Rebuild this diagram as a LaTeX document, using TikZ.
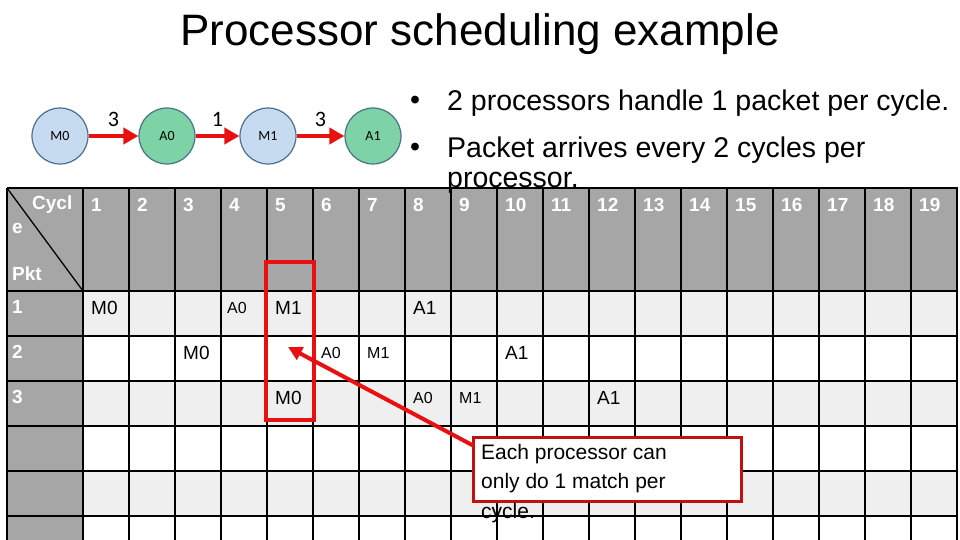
\documentclass[tikz,border=0pt]{standalone}
\usepackage{fontspec}
\setmainfont{Liberation Sans}
\newfontfamily\carlitofont{Carlito}
\usetikzlibrary{arrows.meta}
\definecolor{hdr}{HTML}{A6A6A6}
\definecolor{lite}{HTML}{EFEFEF}
\definecolor{cblue}{HTML}{C6DBF0}
\definecolor{cgreen}{HTML}{7DD3A5}
\definecolor{cedge}{HTML}{4A6F8F}
\definecolor{myred}{HTML}{E81010}
\tikzset{
 proc/.style={circle,draw=cedge,line width=1.2pt,minimum size=56pt,inner sep=0pt,font=\carlitofont\fontsize{14}{14}\selectfont},
 flow/.style={myred,line width=4.5pt,-{Triangle[length=15pt,width=16pt]}},
 wlab/.style={anchor=north west,text=white,font=\bfseries\fontsize{19}{19}\selectfont,inner sep=0pt},
 cellA/.style={anchor=west,font=\fontsize{19}{19}\selectfont,inner sep=0pt},
 cellB/.style={anchor=west,font=\fontsize{16}{16}\selectfont,inner sep=0pt},
 bul/.style={anchor=west,inner sep=0pt,font=\fontsize{28.5}{30}\selectfont},
}
\begin{document}
\begin{tikzpicture}[x=1pt,y=-1pt]
\useasboundingbox (0,0) rectangle (960,540);
\fill[white] (0,0) rectangle (960,540);
\node (title) at (480,34) {\fontsize{44}{44}\selectfont Processor scheduling example};
% circles
\node[proc,fill=cblue] (m0) at (60,136) {M0};
\node[proc,fill=cgreen] (a0) at (167,136) {A0};
\node[proc,fill=cblue] (m1) at (268,136) {M1};
\node[proc,fill=cgreen] (a1) at (373,136) {A1};
\draw[flow] (m0) -- node[above=4pt,text=black,font=\carlitofont\fontsize{22}{22}\selectfont]{3} (a0);
\draw[flow] (a0) -- node[above=4pt,text=black,font=\carlitofont\fontsize{22}{22}\selectfont]{1} (m1);
\draw[flow] (m1) -- node[above=4pt,text=black,font=\carlitofont\fontsize{22}{22}\selectfont]{3} (a1);
% table fills
\fill[hdr] (7,188) rectangle (958,291);
\foreach \r in {0,2,4} \fill[lite] (83,{291+45*\r}) rectangle (958,{336+45*\r});
\fill[hdr] (7,291) rectangle (83,545);
% grid
\begin{scope}[line width=1.3pt]
\draw (7,188) -- (958,188);
\foreach \r in {0,...,5} \draw (7,{291+45*\r}) -- (958,{291+45*\r});
\draw (7,188) -- (7,545);
\foreach \c in {0,...,19} \draw ({83+46*\c},188) -- ({83+46*\c},545);
\draw (7,188) -- (83,291);
\end{scope}
\foreach \c in {1,...,19} \node[wlab] (h\c) at ({83+46*(\c-1)+8},198) {\c};
\node[wlab] (cy) at (32,196) {Cycl};
\node[wlab] (ce) at (12,223) {e};
\node[wlab] (pk) at (12,267) {Pkt};
\foreach \r in {1,2,3} \node[wlab] (r\r) at (12,{291+45*(\r-1)+9}) {\r};
% cells
\newcommand\cellx[1]{83+46*(#1-1)+8}
\node[cellA] (c11) at ({\cellx{1}},308) {M0};
\node[cellB] (c14) at ({\cellx{4}-2},308) {A0};
\node[cellA] (c15) at ({\cellx{5}},308) {M1};
\node[cellA] (c18) at ({\cellx{8}},308) {A1};
\node[cellA] (c23) at ({\cellx{3}},353) {M0};
\node[cellB] (c26) at ({\cellx{6}},353) {A0};
\node[cellB] (c27) at ({\cellx{7}},353) {M1};
\node[cellA] (c210) at ({\cellx{10}},353) {A1};
\node[cellA] (c35) at ({\cellx{5}},398) {M0};
\node[cellB] (c38) at ({\cellx{8}},398) {A0};
\node[cellB] (c39) at ({\cellx{9}},398) {M1};
\node[cellA] (c312) at ({\cellx{12}},398) {A1};
% highlight
\draw[myred,line width=4pt] (266,262) rectangle (314,420);
% bullets
\node[bul] (b1) at (410,103) {\textbullet};
\node[bul] (b1t) at (447,103) {2 processors handle 1 packet per cycle.};
\node[bul] (b2) at (410,150) {\textbullet};
\node[bul] (b2t) at (447,150) {Packet arrives every 2 cycles per};
\node[bul] (b3) at (447,183) {processor.};
% callout
\node[draw=myred!85!black,line width=3pt,fill=white,anchor=north west,minimum width=268pt,minimum height=64pt,inner sep=0pt] (box) at (472,436) {};
\node[anchor=north west,align=left,inner sep=0pt,font=\fontsize{21}{29.5}\selectfont] (boxtxt) at (481,444) {Each processor can\\only do 1 match per\\cycle.};
\coordinate (tip) at (288,347);
\draw[myred,line width=4pt,-{Triangle[length=14pt,width=14pt]}] (box.north west) ++(2,10) -- (tip);
\end{tikzpicture}
\end{document}
